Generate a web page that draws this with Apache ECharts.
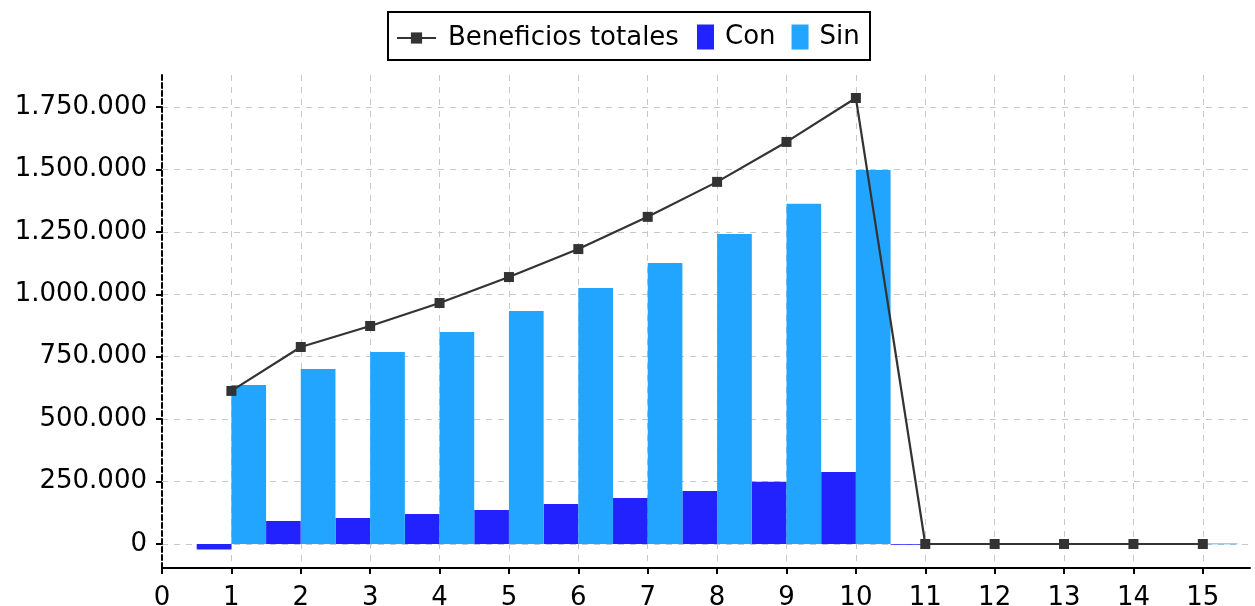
<!DOCTYPE html>
<html>
<head>
<meta charset="utf-8">
<script src="https://cdn.jsdelivr.net/npm/echarts@6/dist/echarts.min.js"></script>
<style>
	html, body { margin: 0; padding: 0; background: #fff; }
	#chart { width: 1255px; height: 606px; }
</style>
</head>
<body>
<div id="chart"></div>
<script>
let periods = [1, 2, 3, 4, 5, 6, 7, 8, 9, 10, 11, 12, 13, 14, 15]
let beneficios = [613000, 789000, 873000, 965000, 1069000, 1181000, 1310000, 1450000, 1610000, 1786000, 0, 0, 0, 0, 0]
let con = [-22000, 92000, 104000, 120000, 136000, 160000, 184000, 212000, 249000, 288000, -2000, 0, 0, 0, 0]
let sin = [637000, 701000, 769000, 849000, 933000, 1025000, 1125000, 1241000, 1362000, 1498000, 0, 0, 0, 0, 2000]
let xTicks = [0, 1, 2, 3, 4, 5, 6, 7, 8, 9, 10, 11, 12, 13, 14, 15]
let yTicks = [0, 250000, 500000, 750000, 1000000, 1250000, 1500000, 1750000]

let fontFamily = 'DejaVu Sans'

// barra de media unidad a la izquierda (Con) o derecha (Sin) de cada periodo
function halfBar(offset) {
	return function (params, api) {
		let x = api.value(0)
		let v = api.value(1)
		let p0 = api.coord([x + offset, 0])
		let p1 = api.coord([x + offset + 0.5, v])
		return {
			type: 'rect',
			shape: {
				x: p0[0],
				y: Math.min(p0[1], p1[1]),
				width: p1[0] - p0[0],
				height: Math.max(Math.abs(p1[1] - p0[1]), 0.8)
			},
			style: api.style()
		}
	}
}

let chart = echarts.init(document.getElementById('chart'))
let option = {
	animation: false,
	textStyle: { fontFamily: fontFamily },
	grid: { left: 162, right: 5, top: 75, bottom: 38, outerBoundsMode: 'none', containLabel: false },
	graphic: [{
		type: 'rect',
		shape: { x: 388, y: 12, width: 482, height: 48 },
		style: { fill: '#fff', stroke: '#000', lineWidth: 2 },
		z: -1
	}],
	legend: [{
		data: ['Beneficios totales'],
		left: 391,
		top: 20,
		itemWidth: 39,
		itemHeight: 14,
		textStyle: { fontSize: 26, color: '#000', fontFamily: fontFamily, padding: [0, 0, 0, 7] }
	}, {
		data: [{ name: 'Con', icon: 'rect' }, { name: 'Sin', icon: 'rect' }],
		left: 692,
		top: 19,
		itemWidth: 17,
		itemHeight: 25,
		itemGap: 16,
		textStyle: { fontSize: 26, color: '#000', fontFamily: fontFamily, padding: [0, 0, 0, 6] }
	}],
	xAxis: {
		type: 'value',
		min: 0,
		max: 15.68,
		axisLine: { onZero: false, lineStyle: { color: '#000', width: 2 } },
		axisTick: { customValues: xTicks, length: 6, lineStyle: { color: '#000', width: 2 } },
		axisLabel: { customValues: xTicks, fontSize: 26, color: '#000', margin: 17 },
		splitLine: { show: true, lineStyle: { color: '#c8c8c8', type: [6, 6], width: 1 } }
	},
	yAxis: {
		type: 'value',
		min: -96000,
		max: 1878000,
		axisLine: { show: true, onZero: false, lineStyle: { color: '#000', width: 2, type: [5, 3] } },
		axisTick: { customValues: yTicks, length: 6, lineStyle: { color: '#000', width: 2 } },
		axisLabel: {
			customValues: yTicks,
			fontSize: 26,
			color: '#000',
			margin: 15,
			formatter: v => String(v).replace(/\B(?=(\d{3})+(?!\d))/g, '.')
		},
		splitLine: { show: true, lineStyle: { color: '#c8c8c8', type: [6, 6], width: 1 } }
	},
	series: [{
		name: 'Con',
		type: 'custom',
		renderItem: halfBar(-0.5),
		itemStyle: { color: '#2222ff' },
		encode: { x: 0, y: 1 },
		data: periods.map((p, i) => [p, con[i]]),
		z: 2
	}, {
		name: 'Sin',
		type: 'custom',
		renderItem: halfBar(0),
		itemStyle: { color: '#22a5ff' },
		encode: { x: 0, y: 1 },
		data: periods.map((p, i) => [p, sin[i]]),
		z: 2
	}, {
		name: 'Beneficios totales',
		type: 'line',
		data: periods.map((p, i) => [p, beneficios[i]]),
		symbol: 'rect',
		symbolSize: 10,
		lineStyle: { color: '#333333', width: 2.2 },
		itemStyle: { color: '#333333' },
		z: 5
	}]
}
chart.setOption(option)
</script>
</body>
</html>
